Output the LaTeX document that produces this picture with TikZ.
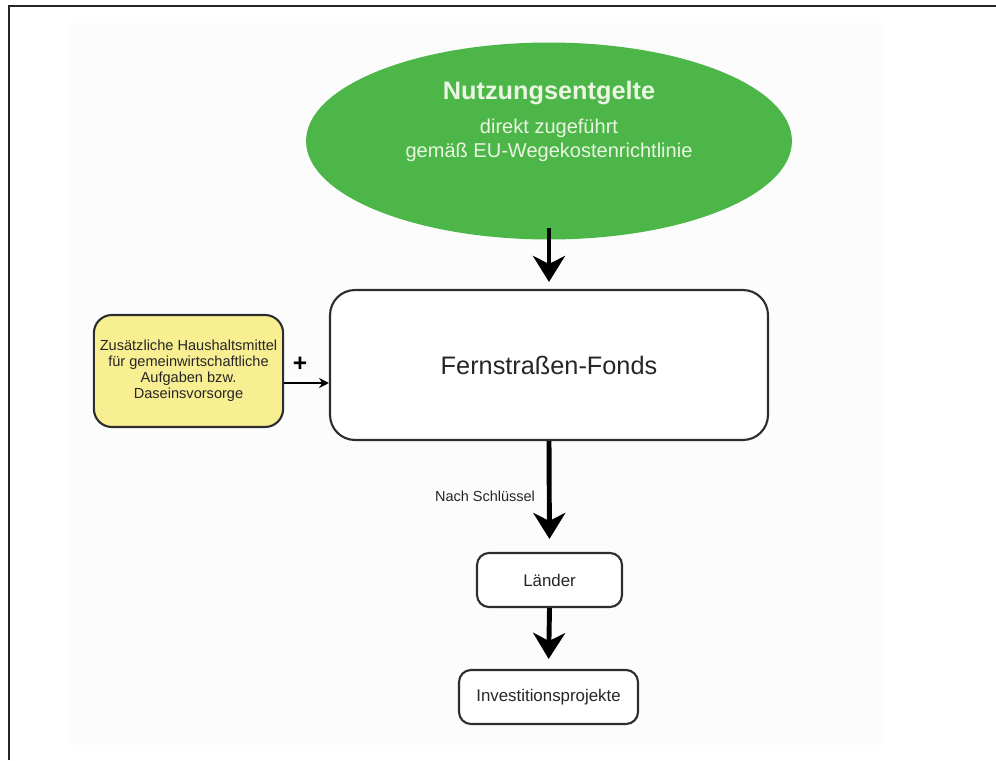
\documentclass[tikz,border=0pt]{standalone}
\usepackage{fontspec}
\setmainfont{Liberation Sans}
\usetikzlibrary{arrows.meta,shapes.geometric}

\definecolor{feegreen}{RGB}{76,183,72}
\definecolor{feetext}{RGB}{234,245,226}
\definecolor{budgetyellow}{RGB}{248,238,146}
\definecolor{boxline}{RGB}{45,45,45}
\definecolor{paper}{RGB}{252,252,252}

\begin{document}
\begin{tikzpicture}[x=0.02cm,y=-0.02cm,
  box/.style={draw=boxline,line width=1.2pt,fill=white,text=black!85},
  bigarrow/.style={line width=2.8pt,-{Stealth[length=0.52cm,width=0.64cm,inset=0.16cm]}},
  smallarrow/.style={line width=1.1pt,-{Stealth[length=0.2cm,width=0.2cm]}}]

\useasboundingbox (0,0) rectangle (996,760);
\fill[paper] (67,23) rectangle (885,745);
\draw[line width=1.2pt,black!85] (9,760) -- (9,6) -- (996,6);

% Einnahmen
\node[ellipse,fill=feegreen,minimum width=9.72cm,minimum height=3.94cm] (fees) at (549,141) {};
\node[text=feetext,font=\bfseries\fontsize{14.4}{17}\selectfont] (feetitle) at (549,93) {Nutzungsentgelte};
\node[text=feetext,font=\fontsize{11.4}{14}\selectfont] (feeline1) at (549,128) {direkt zugeführt};
\node[text=feetext,font=\fontsize{11.4}{14}\selectfont] (feeline2) at (549,152) {gemäß EU-Wegekostenrichtlinie};

% Fonds
\node[box,rounded corners=0.5cm,minimum width=8.76cm,minimum height=3cm,
  font=\fontsize{14.4}{17}\selectfont] (fund) at (549,365) {Fernstraßen-Fonds};
\node[box,fill=budgetyellow,rounded corners=0.36cm,minimum width=3.74cm,minimum height=2.24cm,
  align=center,font=\fontsize{8.3}{9.1}\selectfont] (budget) at (188.5,371)
  {Zusätzliche Haushaltsmittel\\für gemeinwirtschaftliche\\Aufgaben bzw.\\Daseinsvorsorge};
\node[font=\bfseries\fontsize{14}{16}\selectfont] (plus) at (300,364) {+};

% Verteilung
\node[box,rounded corners=0.24cm,minimum width=2.9cm,minimum height=1.08cm,
  font=\fontsize{9.6}{11}\selectfont] (laender) at (549.5,580) {Länder};
\node[box,rounded corners=0.24cm,minimum width=3.58cm,minimum height=1.08cm,
  font=\fontsize{9.6}{11}\selectfont] (projects) at (548.5,697) {Investitionsprojekte};

\draw[bigarrow,shorten <=-0.24cm,shorten >=0.14cm] (fees.south) -- (fund.north);
\draw[smallarrow] ([yshift=-0.24cm]budget.east) -- ([yshift=-0.24cm]budget.east -| fund.west);
\draw[bigarrow,shorten >=0.26cm] (fund.south) -- node[midway,left=0.12cm,text=black!85,
  font=\fontsize{8.25}{10}\selectfont] (keylabel) {Nach Schlüssel} (laender.north);
\draw[bigarrow,shorten >=0.2cm] (laender.south) -- (projects.north);

\end{tikzpicture}
\end{document}
